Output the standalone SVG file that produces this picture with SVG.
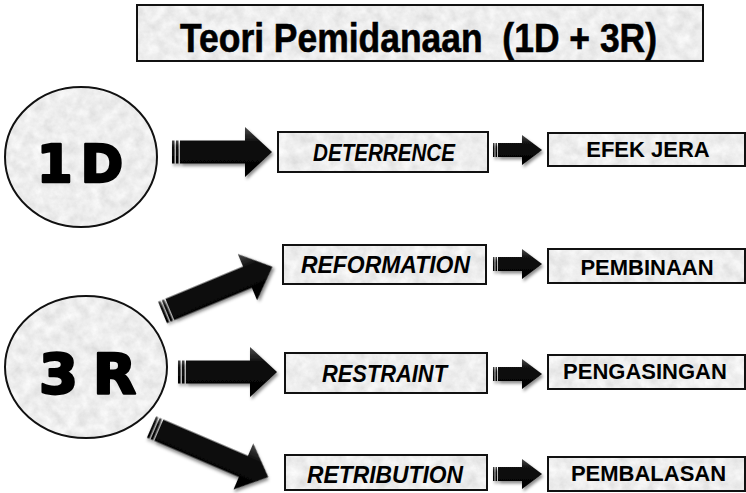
<svg xmlns="http://www.w3.org/2000/svg" width="746" height="493" viewBox="0 0 746 493">
  <style>
    .frame { fill: none; stroke: #111; stroke-width: 2; }
    .stone { fill: #ddd; filter: url(#stone); }
    .title { font-family: "Liberation Sans", Arial, sans-serif; font-weight: 700; font-size: 40px; fill: #000; stroke: #000; stroke-width: 0.6; }
    .big { font-family: "DejaVu Sans", "Liberation Sans", sans-serif; font-weight: 700; fill: #000; stroke: #000; stroke-width: 2.6; stroke-linejoin: round; text-anchor: middle; }
    .lbl { font-family: "Liberation Sans", Arial, sans-serif; font-weight: 700; font-style: italic; font-size: 23px; fill: #000; text-anchor: middle; }
    .res { font-family: "Liberation Sans", Arial, sans-serif; font-weight: 700; font-size: 22px; fill: #000; text-anchor: middle; }
    .arrow { fill: url(#arrowShade); filter: url(#shadow); }
  </style>
  <defs>
    <!-- soft mottled grey stone texture for the node fills -->
    <filter id="stone" x="0" y="0" width="100%" height="100%">
      <feTurbulence type="fractalNoise" baseFrequency="0.09" numOctaves="5" seed="7" result="noise"/>
      <feColorMatrix in="noise" type="matrix" values="0.32 0 0 0 0.69  0.32 0 0 0 0.69  0.32 0 0 0 0.69  0 0 0 0 1" result="grey"/>
      <feComposite in="grey" in2="SourceAlpha" operator="in"/>
    </filter>
    <filter id="shadow" x="-20%" y="-30%" width="140%" height="160%">
      <feDropShadow dx="1.5" dy="2.5" stdDeviation="1.8" flood-color="#000" flood-opacity="0.45"/>
    </filter>
    <linearGradient id="arrowShade" x1="0" y1="0" x2="0" y2="1">
      <stop offset="0" stop-color="#4a4a4a"/>
      <stop offset="0.3" stop-color="#0e0e0e"/>
      <stop offset="1" stop-color="#000"/>
    </linearGradient>
  </defs>

  <!-- title -->
  <g id="title">
    <rect class="stone" x="137" y="5" width="566" height="56"/>
    <rect class="frame" x="137" y="5" width="566" height="56"/>
    <text class="title" x="418.5" y="52" text-anchor="middle" xml:space="preserve" textLength="477" lengthAdjust="spacingAndGlyphs">Teori Pemidanaan  (1D + 3R)</text>
  </g>

  <!-- source circles -->
  <g id="node-1d">
    <ellipse class="stone" cx="81" cy="157" rx="76" ry="70"/>
    <ellipse class="frame" cx="81" cy="157" rx="76" ry="70"/>
    <text class="big" x="80" y="182" font-size="51" textLength="86">1D</text>
  </g>
  <g id="node-3r">
    <ellipse class="stone" cx="86" cy="367" rx="81" ry="71"/>
    <ellipse class="frame" cx="86" cy="367" rx="81" ry="71"/>
    <text class="big" x="87.5" y="393" font-size="56" textLength="97" xml:space="preserve">3 R</text>
  </g>

  <!-- theory boxes -->
  <g id="node-deterrence">
    <rect class="stone" x="278" y="132" width="210" height="40"/>
    <rect class="frame" x="278" y="132" width="210" height="40"/>
    <text class="lbl" x="384" y="161" textLength="142" lengthAdjust="spacingAndGlyphs">DETERRENCE</text>
  </g>
  <g id="node-reformation">
    <rect class="stone" x="283" y="245" width="203" height="39"/>
    <rect class="frame" x="283" y="245" width="203" height="39"/>
    <text class="lbl" x="385.5" y="273" textLength="169" lengthAdjust="spacingAndGlyphs">REFORMATION</text>
  </g>
  <g id="node-restraint">
    <rect class="stone" x="285" y="353" width="202" height="40"/>
    <rect class="frame" x="285" y="353" width="202" height="40"/>
    <text class="lbl" x="384.5" y="382" textLength="125" lengthAdjust="spacingAndGlyphs">RESTRAINT</text>
  </g>
  <g id="node-retribution">
    <rect class="stone" x="285" y="455" width="202" height="35"/>
    <rect class="frame" x="285" y="455" width="202" height="35"/>
    <text class="lbl" x="385" y="483" textLength="156" lengthAdjust="spacingAndGlyphs">RETRIBUTION</text>
  </g>

  <!-- outcome boxes -->
  <g id="node-efek-jera">
    <rect class="stone" x="548" y="133" width="197" height="33"/>
    <rect class="frame" x="548" y="133" width="197" height="33"/>
    <text class="res" x="648" y="157">EFEK JERA</text>
  </g>
  <g id="node-pembinaan">
    <rect class="stone" x="548" y="249" width="197" height="34"/>
    <rect class="frame" x="548" y="249" width="197" height="34"/>
    <text class="res" x="647" y="275">PEMBINAAN</text>
  </g>
  <g id="node-pengasingan">
    <rect class="stone" x="548" y="355" width="197" height="34"/>
    <rect class="frame" x="548" y="355" width="197" height="34"/>
    <text class="res" x="645" y="379">PENGASINGAN</text>
  </g>
  <g id="node-pembalasan">
    <rect class="stone" x="548" y="457" width="197" height="34"/>
    <rect class="frame" x="548" y="457" width="197" height="34"/>
    <text class="res" x="648.5" y="481">PEMBALASAN</text>
  </g>

  <!-- connectors: striped block arrows -->
  <g id="connectors">
    <!-- 1D -> DETERRENCE -->
    <g class="arrow" transform="translate(172 152)">
      <rect x="0" y="-11.5" width="2.5" height="23"/>
      <rect x="4" y="-11.5" width="2.5" height="23"/>
      <path d="M8,-11.5 H73 V-25 L100,0 L73,25 V11.5 H8 Z"/>
    </g>
    <!-- 3R -> REFORMATION -->
    <g class="arrow" transform="translate(162.5 312.5) rotate(-22.6)">
      <rect x="0" y="-11.5" width="2.5" height="23"/>
      <rect x="4" y="-11.5" width="2.5" height="23"/>
      <path d="M8,-11.5 H92 V-25 L119,0 L92,25 V11.5 H8 Z"/>
    </g>
    <!-- 3R -> RESTRAINT -->
    <g class="arrow" transform="translate(178 372)">
      <rect x="0" y="-11.5" width="2.5" height="23"/>
      <rect x="4" y="-11.5" width="2.5" height="23"/>
      <path d="M8,-11.5 H72 V-25 L99,0 L72,25 V11.5 H8 Z"/>
    </g>
    <!-- 3R -> RETRIBUTION -->
    <g class="arrow" transform="translate(151.5 427) rotate(23.2)">
      <rect x="0" y="-11.5" width="2.5" height="23"/>
      <rect x="4" y="-11.5" width="2.5" height="23"/>
      <path d="M8,-11.5 H100 V-25 L127,0 L100,25 V11.5 H8 Z"/>
    </g>

    <!-- theory -> outcome -->
    <g class="arrow" transform="translate(493 150)">
      <rect x="0" y="-7" width="1.5" height="14"/>
      <rect x="2.5" y="-7" width="1.5" height="14"/>
      <path d="M5,-7 H29 V-15 L49,0 L29,15 V7 H5 Z"/>
    </g>
    <g class="arrow" transform="translate(493 264)">
      <rect x="0" y="-7" width="1.5" height="14"/>
      <rect x="2.5" y="-7" width="1.5" height="14"/>
      <path d="M5,-7 H29 V-15 L49,0 L29,15 V7 H5 Z"/>
    </g>
    <g class="arrow" transform="translate(493 374)">
      <rect x="0" y="-7" width="1.5" height="14"/>
      <rect x="2.5" y="-7" width="1.5" height="14"/>
      <path d="M5,-7 H29 V-15 L49,0 L29,15 V7 H5 Z"/>
    </g>
    <g class="arrow" transform="translate(493 474)">
      <rect x="0" y="-7" width="1.5" height="14"/>
      <rect x="2.5" y="-7" width="1.5" height="14"/>
      <path d="M5,-7 H29 V-15 L49,0 L29,15 V7 H5 Z"/>
    </g>
  </g>
</svg>
